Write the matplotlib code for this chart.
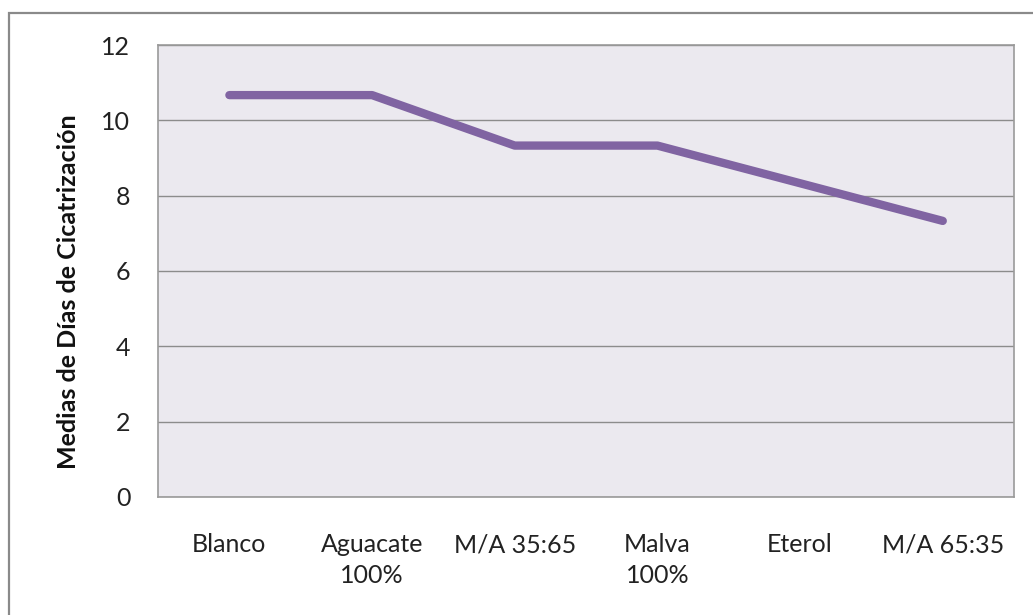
#!/usr/bin/env python3
'''Medias de dias de cicatrizacion por tratamiento'''

import matplotlib
matplotlib.use('Agg')
import matplotlib.pyplot as plt
from matplotlib.patches import Rectangle

categories = ['Blanco', 'Aguacate\n100%', 'M/A 35:65', 'Malva\n100%', 'Eterol', 'M/A 65:35']
dias = [10.67, 10.67, 9.33, 9.33, 8.33, 7.33]
yticks = [0, 2, 4, 6, 8, 10, 12]

plt.rcParams['font.family'] = ['Lato', 'DejaVu Sans']

fig = plt.figure(figsize=(10.33, 6.15), dpi=100)
ax = fig.add_axes([0.153, 0.1919, 0.8287, 0.7349])

# outer chart border (runs off the right/bottom edges)
fig.patches.append(Rectangle((9 / 1033, -0.05), 1.2, 1 - 13 / 615 + 0.05,
                             transform=fig.transFigure, fill=False,
                             edgecolor='#8a8a8a', linewidth=1.6, zorder=0))

ax.set_facecolor('#ebe9ef')
x = range(len(categories))
ax.plot(x, dias, color='#8064a2', linewidth=6, solid_capstyle='round',
        solid_joinstyle='round', zorder=3)

ax.set_xlim(-0.5, len(categories) - 0.5)
ax.set_ylim(0, 12)
ax.set_yticks(yticks)
ax.set_xticks(list(x))
ax.set_xticklabels(categories, fontsize=18, color='#222222', linespacing=1.4)
ax.tick_params(axis='y', labelsize=18, colors='#222222', length=0, pad=20)
ax.tick_params(axis='x', length=0, pad=26)
ax.grid(axis='y', color='#8c8c8c', linewidth=1)
ax.set_axisbelow(True)
for s in ax.spines.values():
    s.set_color('#9a9a9a')
    s.set_linewidth(1.2)

ax.set_ylabel('Medias de Días de Cicatrización', fontsize=18, fontweight='bold',
              color='#111111')
ax.yaxis.set_label_coords(-0.091, 0.455)

fig.savefig('out.png', dpi=100)
